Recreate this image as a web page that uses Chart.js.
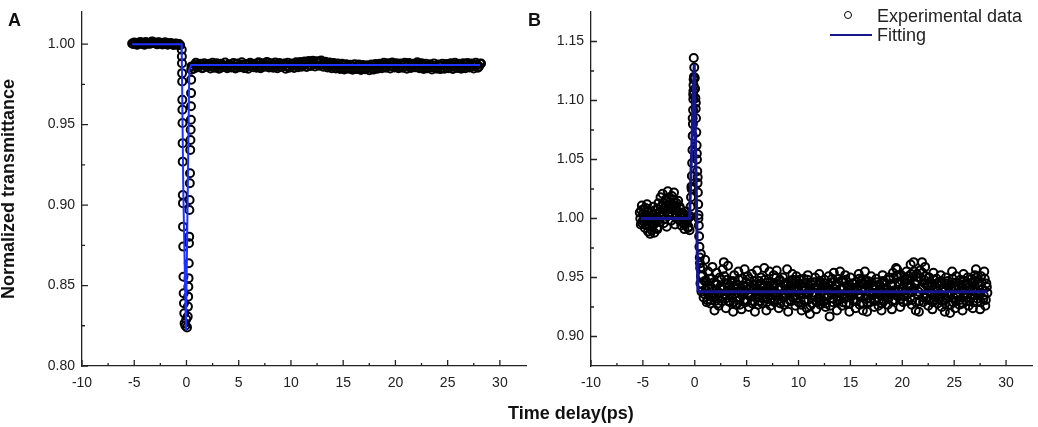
<!DOCTYPE html>
<html>
<head>
<meta charset="utf-8">
<title>Normalized transmittance vs time delay</title>
<script src="https://cdn.jsdelivr.net/npm/chart.js@4.4.1/dist/chart.umd.min.js"></script>
<style>
  body { margin: 0; background: #fff; }
  #wrap { position: relative; width: 1038px; height: 427px; overflow: hidden;
          font-family: 'Liberation Sans', Arial, sans-serif; color: #222; }
  canvas { position: absolute; left: 0; top: 0; }
  .panel { position: absolute; top: 11px; font-weight: bold; font-size: 18px; line-height: 18px; color: #111; }
  #xTitle { position: absolute; left: 508px; top: 404px; font-weight: bold; font-size: 18px; line-height: 18px; color: #111; }
  #legend { position: absolute; left: 830px; top: 6px; font-size: 18px; line-height: 18px; }
  .row { display: flex; align-items: center; height: 19px; }
  .mark { width: 42px; height: 19px; position: relative; margin-right: 5px; }
  .dot { position: absolute; left: 14px; top: 5px; width: 8px; height: 8px; box-sizing: border-box;
         border: 1.8px solid #000; border-radius: 50%; }
  .seg { position: absolute; left: 0; top: 9px; width: 42px; height: 2px; }
</style>
</head>
<body>
<div id="wrap">
  <canvas id="chartA" width="1038" height="427"></canvas>
  <canvas id="chartB" width="1038" height="427"></canvas>
  <div class="panel" style="left:8px">A</div>
  <div class="panel" style="left:528px">B</div>
  <div id="xTitle">Time delay(ps)</div>
  <div id="legend"></div>
</div>
<script>
// 축 눈금
const xMajorTicks = [-10, -5, 0, 5, 10, 15, 20, 25, 30];
const xMinorTicks = [-7.5, -2.5, 2.5, 7.5, 12.5, 17.5, 22.5, 27.5];
const yMajorA = [0.80, 0.85, 0.90, 0.95, 1.00];
const yMinorA = [0.825, 0.875, 0.925, 0.975];
const yMajorB = [0.90, 0.95, 1.00, 1.05, 1.10, 1.15];
const yMinorB = [0.925, 0.975, 1.025, 1.075, 1.125];

// A: 실험 데이터 (첫 번째 측정, 시간 ps / 투과율)
const timeA = [
  -5.2,-5.0,-4.8,-4.6,-4.4,-4.2,-4.0,-3.8,-3.6,-3.4,-3.2,-3.0,-2.8,-2.6,-2.4,-2.2,-2.0,-1.8,-1.6,-1.4,-1.2,-1.0,-0.8,-0.6,
  -0.45,-0.44,-0.43,-0.42,-0.41,-0.40,-0.39,-0.38,-0.37,-0.36,-0.35,-0.34,-0.33,-0.31,-0.29,-0.27,-0.24,-0.21,-0.18,
  -0.10,-0.02,0.05,
  0.12,0.14,0.16,0.18,0.20,0.22,0.24,0.26,0.28,0.30,0.32,0.34,0.36,0.38,0.40,0.42,0.43,0.44,0.45,0.46,0.48,
  0.6,0.8,1.0,1.2,1.4,1.6,1.8,2.0,2.2,2.4,
  2.6,2.8,3.0,3.2,3.4,3.6,3.8,4.0,4.2,4.4,
  4.6,4.8,5.0,5.2,5.4,5.6,5.8,6.0,6.2,6.4,
  6.6,6.8,7.0,7.2,7.4,7.6,7.8,8.0,8.2,8.4,
  8.6,8.8,9.0,9.2,9.4,9.6,9.8,10.0,10.2,10.4,
  10.6,10.8,11.0,11.2,11.4,11.6,11.8,12.0,12.2,12.4,
  12.6,12.8,13.0,13.2,13.4,13.6,13.8,14.0,14.2,14.4,
  14.6,14.8,15.0,15.2,15.4,15.6,15.8,16.0,16.2,16.4,
  16.6,16.8,17.0,17.2,17.4,17.6,17.8,18.0,18.2,18.4,
  18.6,18.8,19.0,19.2,19.4,19.6,19.8,20.0,20.2,20.4,
  20.6,20.8,21.0,21.2,21.4,21.6,21.8,22.0,22.2,22.4,
  22.6,22.8,23.0,23.2,23.4,23.6,23.8,24.0,24.2,24.4,
  24.6,24.8,25.0,25.2,25.4,25.6,25.8,26.0,26.2,26.4,
  26.6,26.8,27.0,27.2,27.4,27.6,27.8,28.0,28.2
];
const transA = [
  1.0004,1.0010,0.9998,1.0007,1.0013,1.0001,0.9996,1.0009,1.0005,1.0012,1.0015,1.0006,0.9999,1.0011,1.0008,1.0003,1.0010,0.9997,1.0006,1.0002,0.9995,1.0004,0.9999,0.9993,
  0.9965,0.9924,0.9882,0.9820,0.9768,0.9654,0.9592,0.9510,0.9385,0.9270,0.9063,0.9012,0.8866,0.8742,0.8555,0.8452,0.8390,0.8328,0.8266,
  0.8250,0.8290,0.8240,
  0.8307,0.8369,0.8431,0.8493,0.8546,0.8639,0.8763,0.8804,0.8970,0.9032,0.9136,0.9198,0.9343,0.9405,0.9468,0.9530,0.9614,0.9696,0.9779,0.9841,0.9862,
  0.9862,0.9871,0.9858,0.9866,0.9875,0.9853,0.9869,0.9860,0.9878,0.9864,
  0.9857,0.9870,0.9863,0.9851,0.9874,0.9866,0.9859,0.9872,0.9861,0.9868,
  0.9855,0.9877,0.9864,0.9860,0.9873,0.9852,0.9868,0.9879,0.9862,0.9857,
  0.9871,0.9865,0.9882,0.9859,0.9874,0.9867,0.9885,0.9861,0.9870,0.9876,
  0.9863,0.9872,0.9858,0.9869,0.9880,0.9864,0.9853,0.9871,0.9866,0.9877,
  0.9868,0.9879,0.9862,0.9883,0.9874,0.9886,0.9870,0.9889,0.9878,0.9891,
  0.9881,0.9893,0.9876,0.9884,0.9869,0.9880,0.9864,0.9873,0.9859,0.9868,
  0.9862,0.9855,0.9870,0.9851,0.9864,0.9857,0.9848,0.9861,0.9853,0.9866,
  0.9850,0.9858,0.9846,0.9860,0.9852,0.9863,0.9849,0.9867,0.9855,0.9871,
  0.9862,0.9874,0.9858,0.9869,0.9877,0.9864,0.9880,0.9866,0.9872,0.9859,
  0.9868,0.9876,0.9861,0.9873,0.9857,0.9870,0.9865,0.9878,0.9860,0.9869,
  0.9855,0.9866,0.9851,0.9862,0.9870,0.9856,0.9864,0.9849,0.9861,0.9868,
  0.9853,0.9865,0.9858,0.9871,0.9860,0.9874,0.9857,0.9867,0.9852,0.9869,
  0.9862,0.9875,0.9866,0.9858,0.9872,0.9864,0.9870,0.9861,0.9880
];
// A: 실험 데이터 (두 번째 측정, 반 스텝 어긋남)
const timeA2 = [
  -5.1,-4.9,-4.7,-4.5,-4.3,-4.1,-3.9,-3.7,-3.5,-3.3,-3.1,-2.9,-2.7,-2.5,-2.3,-2.1,-1.9,-1.7,-1.5,-1.3,-1.1,-0.9,-0.7,
  0.7,0.9,1.1,1.3,1.5,1.7,1.9,2.1,2.3,2.5,
  2.7,2.9,3.1,3.3,3.5,3.7,3.9,4.1,4.3,4.5,
  4.7,4.9,5.1,5.3,5.5,5.7,5.9,6.1,6.3,6.5,
  6.7,6.9,7.1,7.3,7.5,7.7,7.9,8.1,8.3,8.5,
  8.7,8.9,9.1,9.3,9.5,9.7,9.9,10.1,10.3,10.5,
  10.7,10.9,11.1,11.3,11.5,11.7,11.9,12.1,12.3,12.5,
  12.7,12.9,13.1,13.3,13.5,13.7,13.9,14.1,14.3,14.5,
  14.7,14.9,15.1,15.3,15.5,15.7,15.9,16.1,16.3,16.5,
  16.7,16.9,17.1,17.3,17.5,17.7,17.9,18.1,18.3,18.5,
  18.7,18.9,19.1,19.3,19.5,19.7,19.9,20.1,20.3,20.5,
  20.7,20.9,21.1,21.3,21.5,21.7,21.9,22.1,22.3,22.5,
  22.7,22.9,23.1,23.3,23.5,23.7,23.9,24.1,24.3,24.5,
  24.7,24.9,25.1,25.3,25.5,25.7,25.9,26.1,26.3,26.5,
  26.7,26.9,27.1,27.3,27.5,27.7,27.9,28.1
];
const transA2 = [
  1.0001,1.0008,0.9996,1.0011,1.0004,0.9999,1.0013,1.0007,1.0002,1.0016,1.0009,1.0004,1.0012,1.0006,0.9998,1.0010,1.0005,1.0001,1.0008,0.9997,1.0003,0.9996,1.0001,
  0.9848,0.9884,0.9856,0.9879,0.9851,0.9882,0.9860,0.9876,0.9849,0.9885,
  0.9853,0.9881,0.9847,0.9878,0.9858,0.9886,0.9850,0.9875,0.9855,0.9883,
  0.9849,0.9880,0.9857,0.9887,0.9852,0.9877,0.9848,0.9884,0.9859,0.9879,
  0.9854,0.9888,0.9851,0.9882,0.9860,0.9890,0.9855,0.9881,0.9853,0.9886,
  0.9850,0.9883,0.9858,0.9879,0.9847,0.9885,0.9856,0.9880,0.9852,0.9887,
  0.9857,0.9889,0.9862,0.9892,0.9858,0.9895,0.9864,0.9897,0.9861,0.9894,
  0.9866,0.9898,0.9860,0.9891,0.9855,0.9886,0.9851,0.9883,0.9849,0.9880,
  0.9846,0.9878,0.9843,0.9875,0.9848,0.9872,0.9841,0.9876,0.9845,0.9874,
  0.9840,0.9871,0.9844,0.9869,0.9838,0.9873,0.9842,0.9877,0.9847,0.9879,
  0.9850,0.9884,0.9853,0.9881,0.9849,0.9886,0.9855,0.9882,0.9851,0.9880,
  0.9854,0.9885,0.9848,0.9883,0.9852,0.9879,0.9856,0.9887,0.9850,0.9881,
  0.9846,0.9878,0.9851,0.9875,0.9843,0.9880,0.9849,0.9874,0.9845,0.9879,
  0.9848,0.9877,0.9850,0.9882,0.9846,0.9884,0.9852,0.9878,0.9847,0.9881,
  0.9851,0.9883,0.9855,0.9880,0.9849,0.9885,0.9853,0.9879
];
// A: 피팅 곡선
const fitTimeA = [-5.2, -0.46, -0.30, -0.05, 0.27, 0.45, 28.1];
const fitA = [1.000, 1.000, 0.907, 0.822, 0.984, 0.987, 0.987];

// B: 실험 데이터 (첫 번째 측정)
const timeB = [
  -5.3,-5.2,-5.1,-5.0,-4.9,-4.8,-4.7,-4.6,-4.5,-4.4,
  -4.3,-4.2,-4.1,-4.0,-3.9,-3.8,-3.7,-3.6,-3.5,-3.4,
  -3.3,-3.2,-3.1,-3.0,-2.9,-2.8,-2.7,-2.6,-2.5,-2.4,
  -2.3,-2.2,-2.1,-2.0,-1.9,-1.8,-1.7,-1.6,-1.5,-1.4,
  -1.3,-1.2,-1.1,-1.0,-0.9,-0.8,-0.7,-0.6,-0.5,
  -0.45,-0.40,-0.36,-0.32,-0.28,-0.25,-0.22,-0.20,-0.18,-0.16,-0.14,-0.13,-0.12,-0.11,-0.10,
  -0.05,0.00,0.03,0.06,0.09,0.12,0.15,0.18,0.21,0.24,0.27,0.30,0.33,0.36,0.39,0.42,0.45,0.48,
  0.5,0.6,0.7,0.8,0.9,1.0,1.1,1.2,1.3,1.4,
  1.5,1.6,1.7,1.8,1.9,2.0,2.1,2.2,2.3,2.4,
  2.5,2.6,2.7,2.8,2.9,3.0,3.1,3.2,3.3,3.4,
  3.5,3.6,3.7,3.8,3.9,4.0,4.1,4.2,4.3,4.4,
  4.5,4.6,4.7,4.8,4.9,5.0,5.1,5.2,5.3,5.4,
  5.5,5.6,5.7,5.8,5.9,6.0,6.1,6.2,6.3,6.4,
  6.5,6.6,6.7,6.8,6.9,7.0,7.1,7.2,7.3,7.4,
  7.5,7.6,7.7,7.8,7.9,8.0,8.1,8.2,8.3,8.4,
  8.5,8.6,8.7,8.8,8.9,9.0,9.1,9.2,9.3,9.4,
  9.5,9.6,9.7,9.8,9.9,10.0,10.1,10.2,10.3,10.4,
  10.5,10.6,10.7,10.8,10.9,11.0,11.1,11.2,11.3,11.4,
  11.5,11.6,11.7,11.8,11.9,12.0,12.1,12.2,12.3,12.4,
  12.5,12.6,12.7,12.8,12.9,13.0,13.1,13.2,13.3,13.4,
  13.5,13.6,13.7,13.8,13.9,14.0,14.1,14.2,14.3,14.4,
  14.5,14.6,14.7,14.8,14.9,15.0,15.1,15.2,15.3,15.4,
  15.5,15.6,15.7,15.8,15.9,16.0,16.1,16.2,16.3,16.4,
  16.5,16.6,16.7,16.8,16.9,17.0,17.1,17.2,17.3,17.4,
  17.5,17.6,17.7,17.8,17.9,18.0,18.1,18.2,18.3,18.4,
  18.5,18.6,18.7,18.8,18.9,19.0,19.1,19.2,19.3,19.4,
  19.5,19.6,19.7,19.8,19.9,20.0,20.1,20.2,20.3,20.4,
  20.5,20.6,20.7,20.8,20.9,21.0,21.1,21.2,21.3,21.4,
  21.5,21.6,21.7,21.8,21.9,22.0,22.1,22.2,22.3,22.4,
  22.5,22.6,22.7,22.8,22.9,23.0,23.1,23.2,23.3,23.4,
  23.5,23.6,23.7,23.8,23.9,24.0,24.1,24.2,24.3,24.4,
  24.5,24.6,24.7,24.8,24.9,25.0,25.1,25.2,25.3,25.4,
  25.5,25.6,25.7,25.8,25.9,26.0,26.1,26.2,26.3,26.4,
  26.5,26.6,26.7,26.8,26.9,27.0,27.1,27.2,27.3,27.4,
  27.5,27.6,27.7,27.8,27.9,28.0,28.1,28.2
];
const transB = [
  1.005,0.995,1.011,0.998,1.008,0.992,1.003,1.012,0.989,1.001,
  0.987,1.006,0.994,1.010,0.988,0.999,1.004,0.991,1.013,0.997,
  1.018,1.002,1.021,0.996,1.009,1.016,0.993,1.023,1.005,1.014,
  0.998,1.019,1.007,1.022,0.995,1.011,1.003,1.015,0.999,1.008,
  0.994,1.005,1.001,0.991,1.003,0.996,1.000,0.993,0.990,
  1.002,1.010,1.018,1.027,1.036,1.047,1.058,1.070,1.080,1.092,1.101,1.108,1.113,1.118,1.136,
  1.128,1.119,1.110,1.102,1.093,1.085,1.073,1.062,1.050,1.040,1.030,1.022,1.012,1.003,0.994,0.985,0.976,0.967,
  0.962,0.951,0.944,0.958,0.936,0.965,0.947,0.931,0.955,0.940,
  0.928,0.949,0.959,0.933,0.922,0.945,0.954,0.937,0.926,0.950,
  0.941,0.930,0.957,0.963,0.935,0.924,0.948,0.960,0.939,0.929,
  0.946,0.933,0.921,0.952,0.940,0.927,0.944,0.955,0.931,0.938,
  0.923,0.949,0.936,0.957,0.929,0.942,0.951,0.925,0.940,0.934,
  0.953,0.930,0.944,0.921,0.938,0.956,0.927,0.947,0.935,0.950,
  0.928,0.941,0.958,0.933,0.922,0.946,0.939,0.955,0.926,0.943,
  0.937,0.952,0.929,0.945,0.956,0.931,0.924,0.948,0.940,0.934,
  0.950,0.927,0.943,0.936,0.957,0.921,0.939,0.947,0.930,0.953,
  0.933,0.945,0.926,0.951,0.938,0.929,0.948,0.935,0.922,0.942,
  0.949,0.931,0.940,0.924,0.952,0.937,0.919,0.944,0.928,0.946,
  0.935,0.950,0.923,0.941,0.932,0.953,0.927,0.945,0.938,0.930,
  0.948,0.925,0.942,0.934,0.951,0.917,0.939,0.946,0.929,0.954,
  0.936,0.944,0.922,0.949,0.931,0.955,0.940,0.926,0.947,0.933,
  0.952,0.928,0.943,0.937,0.921,0.950,0.934,0.945,0.930,0.941,
  0.924,0.946,0.939,0.953,0.927,0.935,0.948,0.922,0.944,0.955,
  0.932,0.921,0.947,0.938,0.929,0.951,0.936,0.943,0.925,0.940,
  0.949,0.933,0.926,0.944,0.937,0.922,0.952,0.930,0.946,0.935,
  0.941,0.927,0.950,0.936,0.944,0.923,0.954,0.939,0.931,0.958,
  0.957,0.934,0.946,0.925,0.952,0.940,0.929,0.948,0.937,0.955,
  0.930,0.951,0.943,0.961,0.927,0.938,0.963,0.945,0.922,0.953,
  0.935,0.921,0.956,0.940,0.963,0.929,0.948,0.959,0.933,0.944,
  0.926,0.950,0.937,0.945,0.923,0.954,0.931,0.942,0.949,0.928,
  0.946,0.934,0.952,0.925,0.940,0.938,0.921,0.950,0.932,0.947,
  0.936,0.920,0.944,0.955,0.929,0.941,0.924,0.951,0.934,0.943,
  0.927,0.948,0.939,0.922,0.953,0.935,0.945,0.930,0.950,0.926,
  0.942,0.933,0.949,0.924,0.938,0.952,0.957,0.929,0.946,0.936,
  0.923,0.951,0.940,0.932,0.955,0.926,0.945,0.937
];
// B: 실험 데이터 (두 번째 측정, 반 스텝 어긋남)
const timeB2 = [
  -5.25,-5.15,-5.05,-4.95,-4.85,-4.75,-4.65,-4.55,-4.45,-4.35,
  -4.25,-4.15,-4.05,-3.95,-3.85,-3.75,-3.65,-3.55,-3.45,-3.35,
  -3.25,-3.15,-3.05,-2.95,-2.85,-2.75,-2.65,-2.55,-2.45,-2.35,
  -2.25,-2.15,-2.05,-1.95,-1.85,-1.75,-1.65,-1.55,-1.45,-1.35,
  -1.25,-1.15,-1.05,-0.95,-0.85,-0.75,-0.65,-0.55,
  -0.30,-0.20,-0.15,-0.08,0.10,0.20,0.28,0.35,0.52,0.58,
  0.55,0.65,0.75,0.85,0.95,1.05,1.15,1.25,1.35,1.45,
  1.55,1.65,1.75,1.85,1.95,2.05,2.15,2.25,2.35,2.45,
  2.55,2.65,2.75,2.85,2.95,3.05,3.15,3.25,3.35,3.45,
  3.55,3.65,3.75,3.85,3.95,4.05,4.15,4.25,4.35,4.45,
  4.55,4.65,4.75,4.85,4.95,5.05,5.15,5.25,5.35,5.45,
  5.55,5.65,5.75,5.85,5.95,6.05,6.15,6.25,6.35,6.45,
  6.55,6.65,6.75,6.85,6.95,7.05,7.15,7.25,7.35,7.45,
  7.55,7.65,7.75,7.85,7.95,8.05,8.15,8.25,8.35,8.45,
  8.55,8.65,8.75,8.85,8.95,9.05,9.15,9.25,9.35,9.45,
  9.55,9.65,9.75,9.85,9.95,10.05,10.15,10.25,10.35,10.45,
  10.55,10.65,10.75,10.85,10.95,11.05,11.15,11.25,11.35,11.45,
  11.55,11.65,11.75,11.85,11.95,12.05,12.15,12.25,12.35,12.45,
  12.55,12.65,12.75,12.85,12.95,13.05,13.15,13.25,13.35,13.45,
  13.55,13.65,13.75,13.85,13.95,14.05,14.15,14.25,14.35,14.45,
  14.55,14.65,14.75,14.85,14.95,15.05,15.15,15.25,15.35,15.45,
  15.55,15.65,15.75,15.85,15.95,16.05,16.15,16.25,16.35,16.45,
  16.55,16.65,16.75,16.85,16.95,17.05,17.15,17.25,17.35,17.45,
  17.55,17.65,17.75,17.85,17.95,18.05,18.15,18.25,18.35,18.45,
  18.55,18.65,18.75,18.85,18.95,19.05,19.15,19.25,19.35,19.45,
  19.55,19.65,19.75,19.85,19.95,20.05,20.15,20.25,20.35,20.45,
  20.55,20.65,20.75,20.85,20.95,21.05,21.15,21.25,21.35,21.45,
  21.55,21.65,21.75,21.85,21.95,22.05,22.15,22.25,22.35,22.45,
  22.55,22.65,22.75,22.85,22.95,23.05,23.15,23.25,23.35,23.45,
  23.55,23.65,23.75,23.85,23.95,24.05,24.15,24.25,24.35,24.45,
  24.55,24.65,24.75,24.85,24.95,25.05,25.15,25.25,25.35,25.45,
  25.55,25.65,25.75,25.85,25.95,26.05,26.15,26.25,26.35,26.45,
  26.55,26.65,26.75,26.85,26.95,27.05,27.15,27.25,27.35,27.45,
  27.55,27.65,27.75,27.85,27.95,28.05,28.15
];
const transB2 = [
  1.000,1.007,0.996,1.004,0.999,1.009,0.994,1.002,1.006,0.993,
  0.998,0.990,1.003,0.995,1.007,1.001,0.992,1.008,0.999,1.005,
  1.010,1.004,1.013,1.007,1.000,1.011,1.015,1.003,1.018,1.008,
  1.012,1.004,1.016,1.009,1.001,1.013,1.006,0.999,1.010,1.002,
  1.004,0.997,1.002,0.995,1.006,0.998,0.992,1.001,
  1.025,1.085,1.105,1.120,1.098,1.055,1.035,1.000,0.958,0.970,
  0.945,0.938,0.952,0.933,0.947,0.940,0.929,0.943,0.936,0.949,
  0.931,0.941,0.935,0.946,0.930,0.939,0.944,0.928,0.937,0.942,
  0.948,0.934,0.940,0.951,0.932,0.945,0.938,0.930,0.943,0.936,
  0.939,0.947,0.929,0.936,0.944,0.933,0.941,0.948,0.927,0.940,
  0.935,0.943,0.931,0.938,0.946,0.930,0.937,0.949,0.934,0.942,
  0.928,0.940,0.947,0.933,0.944,0.936,0.939,0.930,0.945,0.937,
  0.941,0.932,0.948,0.938,0.929,0.943,0.935,0.946,0.931,0.939,
  0.944,0.930,0.937,0.950,0.934,0.940,0.947,0.928,0.942,0.936,
  0.933,0.945,0.939,0.929,0.946,0.937,0.931,0.943,0.938,0.948,
  0.940,0.934,0.947,0.932,0.941,0.936,0.944,0.927,0.939,0.945,
  0.930,0.942,0.936,0.948,0.931,0.939,0.926,0.944,0.935,0.941,
  0.937,0.946,0.929,0.940,0.933,0.947,0.930,0.938,0.943,0.934,
  0.945,0.928,0.941,0.935,0.944,0.926,0.937,0.949,0.932,0.940,
  0.938,0.943,0.930,0.946,0.934,0.940,0.947,0.929,0.942,0.936,
  0.948,0.933,0.939,0.944,0.928,0.941,0.936,0.945,0.931,0.938,
  0.930,0.942,0.936,0.949,0.933,0.939,0.945,0.928,0.940,0.947,
  0.935,0.929,0.944,0.938,0.932,0.946,0.937,0.941,0.930,0.943,
  0.946,0.936,0.931,0.942,0.939,0.928,0.947,0.934,0.944,0.937,
  0.940,0.932,0.948,0.937,0.943,0.930,0.950,0.938,0.935,0.951,
  0.952,0.938,0.944,0.932,0.947,0.941,0.934,0.946,0.939,0.949,
  0.936,0.948,0.942,0.953,0.931,0.940,0.955,0.944,0.929,0.947,
  0.938,0.930,0.950,0.941,0.954,0.933,0.945,0.951,0.936,0.942,
  0.931,0.946,0.938,0.943,0.929,0.948,0.934,0.941,0.945,0.932,
  0.943,0.936,0.947,0.930,0.940,0.938,0.928,0.945,0.935,0.942,
  0.937,0.927,0.942,0.949,0.933,0.940,0.930,0.946,0.936,0.941,
  0.931,0.944,0.939,0.928,0.947,0.937,0.943,0.933,0.945,0.930,
  0.940,0.935,0.946,0.929,0.939,0.947,0.950,0.932,0.943,0.937,
  0.929,0.946,0.940,0.935,0.949,0.931,0.942
];
// B: 피팅 곡선
const fitTimeB = [-5.2, -0.5, -0.05, 0.30, 0.45, 28.2];
const fitB = [1.000, 1.000, 1.131, 0.939, 0.938, 0.938];

Chart.defaults.font.family = "'Liberation Sans', Arial, sans-serif";
Chart.defaults.color = '#222';

const toXY = (xs, ys) => xs.map((t, i) => ({ x: t, y: ys[i] }));

// 안쪽 방향 눈금 그리기
const inwardTicks = {
  id: 'inwardTicks',
  afterDraw(chart, args, opts) {
    const { ctx, chartArea: a, scales: { x, y } } = chart;
    ctx.save();
    ctx.strokeStyle = '#222';
    ctx.lineWidth = 1.3;
    ctx.beginPath();
    const mark = (vals, len, horiz) => vals.forEach(v => {
      if (horiz) {
        const px = x.getPixelForValue(v);
        ctx.moveTo(px, a.bottom); ctx.lineTo(px, a.bottom - len);
      } else {
        const py = y.getPixelForValue(v);
        ctx.moveTo(a.left, py); ctx.lineTo(a.left + len, py);
      }
    });
    mark(opts.xMajor, 6, true);
    mark(opts.xMinor, 3, true);
    mark(opts.yMajor, 6, false);
    mark(opts.yMinor, 3, false);
    ctx.stroke();
    ctx.restore();
  }
};

function makeChart(id, cfg) {
  return new Chart(document.getElementById(id), {
    type: 'scatter',
    data: {
      datasets: [
        { label: 'Fitting', data: toXY(cfg.fitX, cfg.fitY), showLine: true, order: 0,
          borderColor: cfg.fitColor, borderWidth: cfg.fitWidth, pointRadius: 0, tension: 0 },
        { label: 'Experimental data', data: cfg.points, order: 1,
          pointRadius: 4, pointBorderWidth: 2, pointBorderColor: '#000',
          pointBackgroundColor: 'rgba(0,0,0,0)', borderColor: '#000' }
      ]
    },
    options: {
      responsive: false,
      animation: false,
      events: [],
      layout: { padding: cfg.padding },
      plugins: {
        legend: { display: false },
        tooltip: { enabled: false },
        inwardTicks: { xMajor: xMajorTicks, xMinor: xMinorTicks, yMajor: cfg.yMajor, yMinor: cfg.yMinor }
      },
      scales: {
        x: {
          type: 'linear', min: -10, max: 32.5,
          afterBuildTicks: s => { s.ticks = xMajorTicks.map(v => ({ value: v })); },
          afterFit: s => { s.height = 61; s.paddingLeft = 0; s.paddingRight = 0; },
          grid: { display: false, drawTicks: false },
          border: { display: true, color: '#222', width: 1.3 },
          ticks: { padding: 9, font: { size: 14 }, maxRotation: 0, autoSkip: false, callback: v => String(v) }
        },
        y: {
          type: 'linear', min: cfg.yMin, max: cfg.yMax,
          afterBuildTicks: s => { s.ticks = cfg.yMajor.map(v => ({ value: v })); },
          afterFit: s => { s.width = cfg.yWidth; s.paddingTop = 0; s.paddingBottom = 0; },
          grid: { display: false, drawTicks: false },
          border: { display: true, color: '#222', width: 1.3 },
          title: cfg.yTitle ? { display: true, text: cfg.yTitle, color: '#111', padding: { top: -2, bottom: 0 },
                                font: { size: 18, weight: 'bold' } } : { display: false },
          ticks: { padding: 7, font: { size: 14 }, autoSkip: false, callback: v => v.toFixed(2) }
        }
      }
    },
    plugins: [inwardTicks]
  });
}

const chartA = makeChart('chartA', {
  points: toXY(timeA, transA).concat(toXY(timeA2, transA2)), fitX: fitTimeA, fitY: fitA,
  fitColor: '#1e32ff', fitWidth: 2,
  yMin: 0.80, yMax: 1.02, yMajor: yMajorA, yMinor: yMinorA,
  yWidth: 82, yTitle: 'Normalized transmittance',
  padding: { left: 0, right: 512, top: 12, bottom: 0 }
});

const chartB = makeChart('chartB', {
  points: toXY(timeB, transB).concat(toXY(timeB2, transB2)), fitX: fitTimeB, fitY: fitB,
  fitColor: '#16168e', fitWidth: 3,
  yMin: 0.875, yMax: 1.175, yMajor: yMajorB, yMinor: yMinorB,
  yWidth: 71, yTitle: null,
  padding: { left: 520, right: 2, top: 12, bottom: 0 }
});

// 범례 (B 그래프 데이터셋 기준)
const legendEl = document.getElementById('legend');
[1, 0].forEach(i => {
  const ds = chartB.data.datasets[i];
  const row = document.createElement('div');
  row.className = 'row';
  const mark = ds.showLine
    ? `<span class="seg" style="background:${ds.borderColor}"></span>`
    : `<span class="dot"></span>`;
  row.innerHTML = `<span class="mark">${mark}</span><span>${ds.label}</span>`;
  legendEl.appendChild(row);
});
</script>
</body>
</html>
